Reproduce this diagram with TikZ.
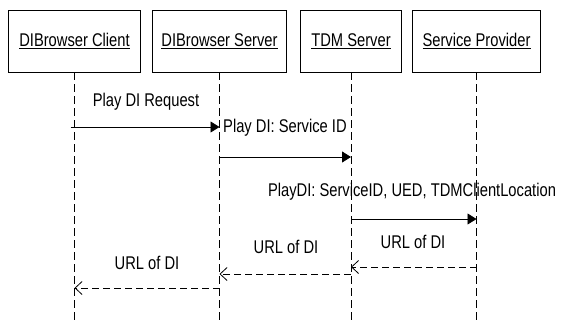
\documentclass[tikz,border=0pt]{standalone}
\usepackage{fontspec}
\setmainfont{Liberation Sans}[FakeStretch=0.8]
\usetikzlibrary{arrows.meta}

\tikzset{
  actor/.style={draw, line width=0.8pt, minimum height=62pt, inner sep=0pt, outer sep=0pt},
  life/.style={line width=0.7pt, dash pattern=on 8pt off 4pt},
  call/.style={line width=0.8pt, -{Triangle[length=9pt,width=11pt]}},
  reply/.style={line width=0.8pt, dash pattern=on 7pt off 4pt,
                -{Straight Barb[length=7pt,width=13pt,line width=0.8pt]}},
  msg/.style={inner sep=0pt}
}

\begin{document}
\begin{tikzpicture}[x=1pt, y=-1pt, font=\fontsize{18.4}{20}\selectfont]
\useasboundingbox (0,0) rectangle (561,322);

% participants
\node[actor, minimum width=132pt] (client)   at (74.5,41)  {\underline{DIBrowser Client}};
\node[actor, minimum width=134pt] (bserver)  at (219.5,41) {\underline{DIBrowser Server}};
\node[actor, minimum width=101pt] (tdm)      at (351,41)   {\underline{TDM Server}};
\node[actor, minimum width=128pt] (provider) at (476.5,41) {\underline{Service Provider}};

% lifelines
\coordinate (bottom) at (0,322);
\foreach \p in {client,bserver,tdm,provider}
  \draw[life] (\p.south) -- (\p.south |- bottom);

% message levels
\coordinate (y1) at (0,127);
\coordinate (y2) at (0,157);
\coordinate (y3) at (0,219);
\coordinate (y4) at (0,267);
\coordinate (y5) at (0,274);
\coordinate (y6) at (0,288);

% requests
\path (client.south |- y1) ++(-4,0) coordinate (m1s);
\draw[call] (m1s) -- (bserver.south |- y1);
\draw[call] (bserver.south |- y2) -- (tdm.south |- y2);
\draw[call] (tdm.south |- y3) -- (provider.south |- y3);

% replies
\draw[reply] (provider.south |- y4) -- (tdm.south |- y4);
\draw[reply] (tdm.south |- y5) -- (bserver.south |- y5);
\draw[reply] (bserver.south |- y6) -- (client.south |- y6);

% message labels
\node[msg] (l1) at (146,102) {Play DI Request};
\node[msg, anchor=west] (l2) at (223,128) {Play DI: Service ID};
\node[msg] (l3) at (412,192) {PlayDI: ServiceID, UED, TDMClientLocation};
\node[msg] (l4) at (413,242) {URL of DI};
\node[msg] (l5) at (286,247) {URL of DI};
\node[msg] (l6) at (147,263) {URL of DI};
\end{tikzpicture}
\end{document}
